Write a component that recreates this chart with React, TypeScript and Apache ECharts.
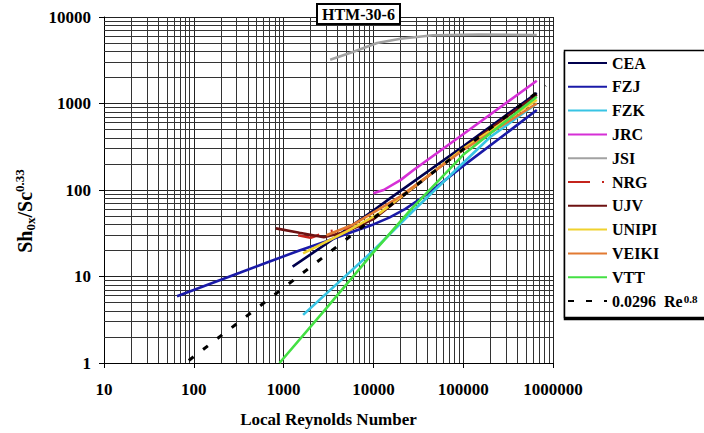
import React, { useEffect, useRef } from "react";
import * as echarts from "echarts";

const seriesNames = ["CEA", "FZJ", "FZK", "JRC", "JSI", "NRG", "UJV", "UNIPI", "VEIKI", "VTT", "0.0296 Re^0.8"];
const seriesColors = ["#00004e", "#1a1aa8", "#38c4e4", "#d62fd6", "#a2a2a2", "#c4241c", "#6e1212", "#f0d22e", "#e27a32", "#44e044", "#000000"];

const cea = [[1260, 13], [3000, 24], [5000, 35], [10000, 58], [15300, 80], [100000, 320], [660000, 1320]];
const fzj = [[65, 5.9], [150, 8.2], [330, 11.1], [700, 14.9], [1500, 20], [3000, 25.5], [5000, 31], [10000, 40], [15000, 48], [22500, 60], [35000, 82], [50000, 108], [100000, 190], [300000, 450], [660000, 840]];
const fzk = [[1650, 3.6], [10000, 20], [28000, 58], [200000, 410], [660000, 1000]];
const jrc = [[10000, 92], [13000, 100], [20000, 130], [28000, 170], [109000, 472], [660000, 1830]];
const jsi = [[3300, 3200], [6000, 3970], [11000, 5000], [20000, 5600], [46000, 6150], [150000, 6250], [660000, 6200]];
const nrg = [[1450, 30], [2000, 28], [3300, 33.5], [5700, 36], [8000, 40]];
const ujv = [[820, 36], [1500, 32], [2800, 28.5], [5000, 33], [10000, 46], [100000, 300], [660000, 1260]];
const unipi = [[1650, 18.5], [5000, 33], [11750, 54], [100000, 300], [660000, 1100]];
const veiki = [[3000, 30], [6000, 40], [19800, 84], [100000, 290], [660000, 1000]];
const vtt = [[900, 1], [3000, 4.3], [10000, 19], [25600, 58], [100000, 255], [660000, 1200]];
const corr = [[88, 1.07], [1000, 7.4], [10000, 47], [100000, 296], [830000, 1610]];

const xDecades = [10, 100, 1000, 10000, 100000];
const yDecades = [1, 10, 100, 1000];
const minorSteps = [2, 3, 4, 5, 6, 7, 8, 9];

const FONT = "Liberation Serif";

export default function App() {
  const ref = useRef<HTMLDivElement>(null);
  useEffect(() => {
    if (!ref.current) return;
    const chart = echarts.init(ref.current, null, { renderer: "svg" });
    const allData = [cea, fzj, fzk, jrc, jsi, nrg, ujv, unipi, veiki, vtt, corr];

    const gridLines: any[] = [];
    xDecades.forEach((d) => minorSteps.forEach((m) => gridLines.push({ xAxis: d * m })));
    yDecades.forEach((d) => minorSteps.forEach((m) => gridLines.push({ yAxis: d * m })));

    const series: any[] = [
      {
        name: "__grid",
        type: "line",
        data: [[10, 1]],
        symbol: "none",
        lineStyle: { width: 0 },
        silent: true,
        z: 1,
        markLine: {
          silent: true,
          symbol: ["none", "none"],
          label: { show: false },
          lineStyle: { color: "#333", width: 1, type: "solid" },
          emphasis: { disabled: true },
          data: gridLines,
          z: 1,
        },
      },
    ];
    seriesNames.forEach((n, i) => {
      const isCorr = i === 10;
      const isNrg = n === "NRG";
      series.push({
        name: n,
        type: "line",
        data: allData[i],
        symbol: "none",
        smooth: false,
        z: 3 + i,
        lineStyle: {
          color: seriesColors[i],
          width: isCorr ? 3 : 2.6,
          type: isCorr ? [6, 12] : isNrg ? [22, 12, 2, 12] : "solid",
        },
        itemStyle: { color: seriesColors[i] },
      });
    });

    chart.setOption({
      animation: false,
      backgroundColor: "#ffffff",
      textStyle: { fontFamily: FONT },
      title: {
        text: "HTM-30-6",
        left: 317,
        top: 4,
        padding: [2, 5, 1, 5],
        borderColor: "#000",
        borderWidth: 2,
        backgroundColor: "#fff",
        textStyle: { fontFamily: FONT, fontWeight: "bold", fontSize: 16, color: "#000", lineHeight: 17 },
      },
      grid: { left: 104, top: 17, width: 449, height: 346, containLabel: false },
      legend: {
        data: seriesNames,
        orient: "vertical",
        left: 564,
        top: 50,
        padding: [5, 10, 10, 3],
        itemWidth: 39,
        itemHeight: 10,
        itemGap: 7.8,
        borderWidth: 0,
        selectedMode: false,
        itemStyle: { opacity: 0 },
        formatter: (name: string) => (name === "0.0296 Re^0.8" ? "{t|0.0296  Re}{p|0.8}" : name),
        textStyle: {
          fontFamily: FONT,
          fontWeight: "bold",
          fontSize: 16,
          color: "#000",
          lineHeight: 16,
          rich: {
            t: { fontFamily: FONT, fontWeight: "bold", fontSize: 16, color: "#000", lineHeight: 16 },
            p: { fontFamily: FONT, fontWeight: "bold", fontSize: 11, color: "#000", verticalAlign: "top", lineHeight: 16, padding: [0, 0, 8, 1] },
          },
        },
      },
      xAxis: {
        type: "log",
        logBase: 10,
        min: 10,
        max: 1000000,
        name: "Local Reynolds Number",
        nameLocation: "middle",
        nameGap: 48,
        nameTextStyle: { fontFamily: FONT, fontWeight: "bold", fontSize: 17, color: "#000" },
        axisLine: { show: true, lineStyle: { color: "#000", width: 1 } },
        axisTick: { show: true, length: 5, lineStyle: { color: "#000" } },
        axisLabel: {
          margin: 18,
          fontFamily: FONT,
          fontWeight: "bold",
          fontSize: 17,
          color: "#000",
          formatter: (v: number) => String(Math.round(v)),
        },
        splitLine: { show: true, lineStyle: { color: "#222", width: 1 } },
        minorTick: { show: false },
      },
      yAxis: {
        type: "log",
        logBase: 10,
        min: 1,
        max: 10000,
        axisLine: { show: true, onZero: false, lineStyle: { color: "#000", width: 1 } },
        axisTick: { show: true, length: 5, lineStyle: { color: "#000" } },
        axisLabel: {
          margin: 13,
          fontFamily: FONT,
          fontWeight: "bold",
          fontSize: 17,
          color: "#000",
          formatter: (v: number) => String(Math.round(v)),
        },
        splitLine: { show: true, lineStyle: { color: "#222", width: 1 } },
      },
      graphic: [
        {
          type: "rect",
          z: -1,
          silent: true,
          shape: { x: 564.5, y: 50.5, width: 200, height: 267 },
          style: { fill: "#fff", stroke: "#000", lineWidth: 1.5, shadowColor: "#000", shadowOffsetX: 0, shadowOffsetY: 2, shadowBlur: 0 },
        },
        {
          type: "text",
          x: 25,
          y: 211,
          rotation: Math.PI / 2,
          style: {
            text: "{a|Sh}{b|0x}{a|/Sc}{c|0.33}",
            align: "center",
            verticalAlign: "middle",
            rich: {
              a: { fontFamily: FONT, fontWeight: "bold", fontSize: 20, fill: "#000", lineHeight: 24, verticalAlign: "middle" },
              b: { fontFamily: FONT, fontWeight: "bold", fontSize: 13, fill: "#000", lineHeight: 24, verticalAlign: "bottom" },
              c: { fontFamily: FONT, fontWeight: "bold", fontSize: 13, fill: "#000", lineHeight: 24, verticalAlign: "top" },
            },
          },
        },
      ],
      series,
    });
    return () => chart.dispose();
  }, []);
  return <div ref={ref} style={{ position: "fixed", left: 0, top: 0, width: 704, height: 433 }} />;
}
